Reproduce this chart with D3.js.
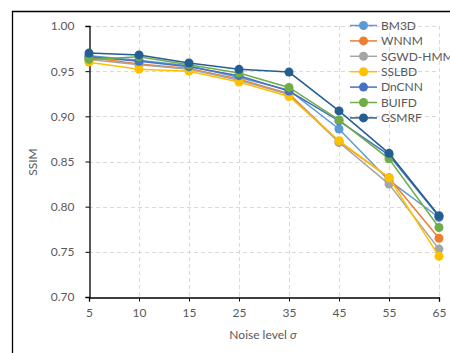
<!DOCTYPE html>
<html>
<head>
<meta charset="utf-8">
<script src="https://cdn.jsdelivr.net/npm/d3@7"></script>
<style>
  body { margin: 0; background: #fff; }
  svg text { font-family: Lato, "Open Sans", sans-serif; fill: #595959; }
</style>
</head>
<body>
<div id="chart"></div>
<script>
var noiseLevels = ['5', '10', '15', '25', '35', '45', '55', '65'];
var yTicks = [0.70, 0.75, 0.80, 0.85, 0.90, 0.95, 1.00];

var methods = ['BM3D', 'WNNM', 'SGWD-HMMs', 'SSLBD', 'DnCNN', 'BUIFD', 'GSMRF'];
var colors = ['#5B9BD5', '#ED7D31', '#A5A5A5', '#FFC000', '#4472C4', '#70AD47', '#255E91'];

var bm3d  = [0.967, 0.962, 0.956, 0.943, 0.929, 0.886, 0.829, 0.788];
var wnnm  = [0.965, 0.958, 0.953, 0.941, 0.925, 0.872, 0.832, 0.765];
var sgwd  = [0.963, 0.957, 0.952, 0.940, 0.924, 0.871, 0.825, 0.753];
var sslbd = [0.960, 0.952, 0.950, 0.938, 0.922, 0.873, 0.832, 0.745];
var dncnn = [0.966, 0.961, 0.955, 0.945, 0.928, 0.895, 0.857, 0.789];
var buifd = [0.963, 0.966, 0.957, 0.948, 0.932, 0.896, 0.853, 0.777];
var gsmrf = [0.970, 0.968, 0.959, 0.952, 0.949, 0.906, 0.859, 0.790];
var series = [bm3d, wnnm, sgwd, sslbd, dncnn, buifd, gsmrf];

var width = 450, height = 353;
var svg = d3.select('#chart').append('svg')
  .attr('width', width)
  .attr('height', height);

// outer frame (only left and top visible)
svg.append('path')
  .attr('d', 'M12.5,353 L12.5,11.5 L450,11.5')
  .attr('fill', 'none')
  .attr('stroke', '#000')
  .attr('stroke-width', 1.3);

var x = d3.scalePoint().domain(noiseLevels).range([89, 439]);
var y = d3.scaleLinear().domain([0.70, 1.00]).range([297, 26]);

// grid
svg.append('g').selectAll('line.h')
  .data(yTicks.slice(1))
  .enter().append('line')
  .attr('x1', 89).attr('x2', 439)
  .attr('y1', function(d) { return Math.round(y(d)) + 0.5; })
  .attr('y2', function(d) { return Math.round(y(d)) + 0.5; })
  .attr('stroke', '#D9D9D9')
  .attr('stroke-dasharray', '4,3');
svg.append('g').selectAll('line.v')
  .data(noiseLevels.slice(1))
  .enter().append('line')
  .attr('x1', function(d) { return Math.round(x(d)) + 0.5; })
  .attr('x2', function(d) { return Math.round(x(d)) + 0.5; })
  .attr('y1', 26).attr('y2', 297)
  .attr('stroke', '#D9D9D9')
  .attr('stroke-dasharray', '4,3');

// axes
var yAxis = svg.append('g')
  .attr('transform', 'translate(89.5,0)')
  .call(d3.axisLeft(y).tickValues(yTicks).tickFormat(d3.format('.2f')).tickSize(4).tickPadding(11));
var xAxis = svg.append('g')
  .attr('transform', 'translate(0,297.5)')
  .call(d3.axisBottom(x).tickSize(4).tickPadding(7));
[xAxis, yAxis].forEach(function(a) {
  a.select('.domain').attr('stroke', '#000').attr('stroke-width', 1.3);
  a.selectAll('.tick line').attr('stroke', '#000');
  a.selectAll('.tick text').attr('font-size', 12).attr('fill', '#595959')
    .style('font-family', 'Lato, "Open Sans", sans-serif');
});

// axis titles
var xt = svg.append('text')
  .attr('x', 263).attr('y', 339)
  .attr('text-anchor', 'middle')
  .attr('font-size', 12);
xt.append('tspan').text('Noise level ');
xt.append('tspan').attr('font-style', 'italic').text('σ');

svg.append('text')
  .attr('transform', 'translate(37,162) rotate(-90)')
  .attr('text-anchor', 'middle')
  .attr('font-size', 12)
  .text('SSIM');

// series
var line = d3.line()
  .x(function(d, i) { return x(noiseLevels[i]); })
  .y(function(d) { return y(d); });

series.forEach(function(vals, k) {
  var g = svg.append('g');
  g.append('path')
    .attr('d', line(vals))
    .attr('fill', 'none')
    .attr('stroke', colors[k])
    .attr('stroke-width', 1.5);
  g.selectAll('circle')
    .data(vals)
    .enter().append('circle')
    .attr('cx', function(d, i) { return x(noiseLevels[i]); })
    .attr('cy', function(d) { return y(d); })
    .attr('r', 4.5)
    .attr('fill', colors[k]);
});

// legend
var legend = svg.append('g').selectAll('g')
  .data(methods)
  .enter().append('g')
  .attr('transform', function(d, i) { return 'translate(350,' + (25.5 + i * 15.4) + ')'; });
legend.append('line')
  .attr('x1', 0).attr('x2', 27)
  .attr('stroke', function(d, i) { return colors[i]; })
  .attr('stroke-width', 1.5);
legend.append('circle')
  .attr('cx', 13.5).attr('r', 4.5)
  .attr('fill', function(d, i) { return colors[i]; });
legend.append('text')
  .attr('x', 31).attr('dy', '0.35em')
  .attr('font-size', 12)
  .text(function(d) { return d; });
</script>
</body>
</html>
